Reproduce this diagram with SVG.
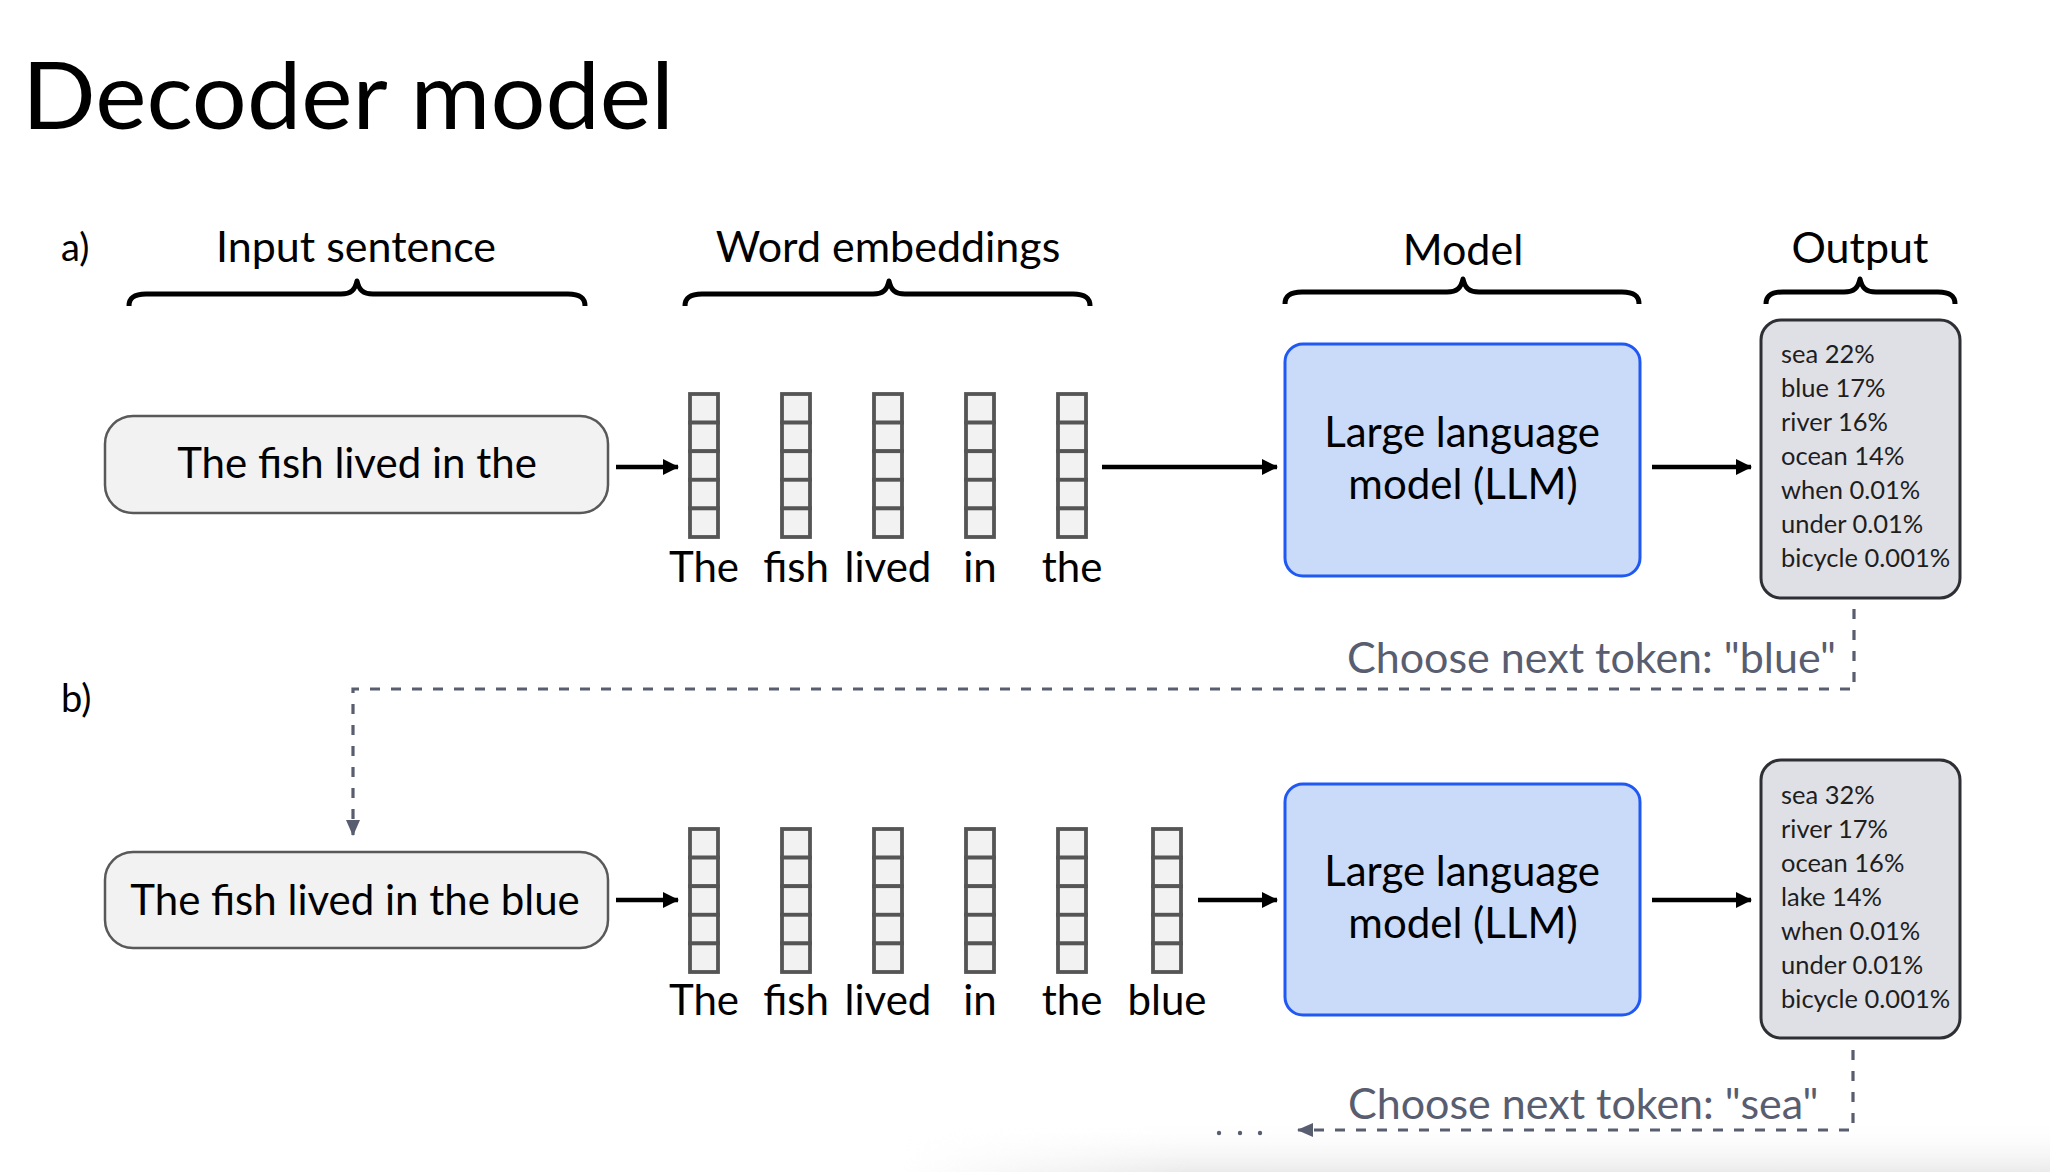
<svg xmlns="http://www.w3.org/2000/svg" width="2050" height="1172" viewBox="0 0 2050 1172">
<defs>
<style>
.t{font-family:Lato,"Open Sans","Liberation Sans",sans-serif;fill:#000;}
.lbl{font-size:43px;text-anchor:middle;}
.wd{font-size:42px;text-anchor:middle;}
.out{font-family:Lato,"Noto Sans","Liberation Sans",sans-serif;font-size:25.5px;fill:#1e1e1e;}
.brace{fill:none;stroke:#000;stroke-width:5;stroke-linejoin:round;}
.inbox{fill:#f2f2f2;stroke:#595959;stroke-width:2.5;}
.cell{fill:#f2f2f2;stroke:#555;stroke-width:3.8;}
.llm{fill:#cadaf9;stroke:#1f58f2;stroke-width:3;}
.outbox{fill:#dfe0e6;stroke:#2d2f34;stroke-width:3;}
.arr{stroke:#000;stroke-width:4.5;fill:none;marker-end:url(#ah);}
.dash{stroke:#595d70;stroke-width:3.2;fill:none;stroke-dasharray:10 11;marker-end:url(#ahd);}
.gray{fill:#595d70;}
</style>
<marker id="ah" viewBox="0 0 16 16" refX="15" refY="8" markerWidth="16" markerHeight="16" orient="auto" markerUnits="userSpaceOnUse"><path d="M0,0 L16,8 L0,16 z" fill="#000"/></marker>
<marker id="ahd" viewBox="0 0 16 14" refX="15" refY="7" markerWidth="16" markerHeight="14" orient="auto" markerUnits="userSpaceOnUse"><path d="M0,0 L16,7 L0,14 z" fill="#595d70"/></marker>
<linearGradient id="shade" x1="0" y1="0" x2="0" y2="1"><stop offset="0" stop-color="#ffffff" stop-opacity="0"/><stop offset="1" stop-color="#ebebeb" stop-opacity="1"/></linearGradient>
<linearGradient id="fadeH" x1="0" y1="0" x2="1" y2="0"><stop offset="0" stop-color="#000"/><stop offset="0.25" stop-color="#fff"/><stop offset="1" stop-color="#fff"/></linearGradient>
<mask id="shadeMask"><rect x="900" y="1120" width="1150" height="52" fill="url(#fadeH)"/></mask>
<g id="col">
<rect class="cell" x="0" y="0" width="28" height="28.6"/>
<rect class="cell" x="0" y="28.6" width="28" height="28.6"/>
<rect class="cell" x="0" y="57.2" width="28" height="28.6"/>
<rect class="cell" x="0" y="85.8" width="28" height="28.6"/>
<rect class="cell" x="0" y="114.4" width="28" height="28.6"/>
</g>
</defs>
<rect x="0" y="0" width="2050" height="1172" fill="#fff"/>
<rect x="900" y="1120" width="1150" height="52" fill="url(#shade)" mask="url(#shadeMask)"/>

<text id="title" class="t" x="22" y="129" font-size="94" textLength="652" lengthAdjust="spacingAndGlyphs">Decoder model</text>

<g id="headers">
<text class="t" x="61" y="261" font-size="38">a)</text>
<text class="t lbl" x="356" y="262">Input sentence</text>
<text class="t lbl" x="888" y="262">Word embeddings</text>
<text class="t lbl" x="1463" y="265">Model</text>
<text class="t lbl" x="1860" y="263">Output</text>
<path class="brace" d="M129 306 C129 298 134 294 146 294 L341 294 C351 294 355 290 357 281 C359 290 363 294 373 294 L568 294 C580 294 585 298 585 306"/>
<path class="brace" d="M685 306 C685 298 690 294 702 294 L873 294 C883 294 887 290 889 281 C891 290 895 294 905 294 L1073 294 C1085 294 1090 298 1090 306"/>
<path class="brace" d="M1285 304 C1285 296 1290 292 1302 292 L1447 292 C1457 292 1461 288 1463 279 C1465 288 1469 292 1479 292 L1622 292 C1634 292 1639 296 1639 304"/>
<path class="brace" d="M1766 304 C1766 296 1771 292 1783 292 L1844 292 C1854 292 1858 288 1860 279 C1862 288 1866 292 1876 292 L1938 292 C1950 292 1955 296 1955 304"/>
<text class="t" x="61" y="712" font-size="38">b)</text>
</g>

<g id="input-a">
<rect class="inbox" x="105" y="416" width="503" height="97" rx="28"/>
<text class="t wd" x="357" y="478">The fish lived in the</text>
</g>
<g id="emb-a">
<use href="#col" x="690" y="394"/>
<use href="#col" x="782" y="394"/>
<use href="#col" x="874" y="394"/>
<use href="#col" x="966" y="394"/>
<use href="#col" x="1058" y="394"/>
<text class="t wd" x="704" y="582">The</text>
<text class="t wd" x="796" y="582">fish</text>
<text class="t wd" x="888" y="582">lived</text>
<text class="t wd" x="980" y="582">in</text>
<text class="t wd" x="1072" y="582">the</text>
</g>
<g id="llm-a">
<rect class="llm" x="1285" y="344" width="355" height="232" rx="18"/>
<text class="t wd" x="1462" y="447">Large language</text>
<text class="t wd" x="1463" y="499">model (LLM)</text>
</g>
<g id="out-a">
<rect class="outbox" x="1761" y="320" width="199" height="278" rx="20"/>
<text class="out" x="1781" y="363">sea 22%</text>
<text class="out" x="1781" y="397">blue 17%</text>
<text class="out" x="1781" y="431">river 16%</text>
<text class="out" x="1781" y="465">ocean 14%</text>
<text class="out" x="1781" y="499">when 0.01%</text>
<text class="out" x="1781" y="533">under 0.01%</text>
<text class="out" x="1781" y="567">bicycle 0.001%</text>
</g>

<g id="input-b">
<rect class="inbox" x="105" y="852" width="503" height="96" rx="28"/>
<text class="t wd" x="355" y="915">The fish lived in the blue</text>
</g>
<g id="emb-b">
<use href="#col" x="690" y="829"/>
<use href="#col" x="782" y="829"/>
<use href="#col" x="874" y="829"/>
<use href="#col" x="966" y="829"/>
<use href="#col" x="1058" y="829"/>
<use href="#col" x="1153" y="829"/>
<text class="t wd" x="704" y="1015">The</text>
<text class="t wd" x="796" y="1015">fish</text>
<text class="t wd" x="888" y="1015">lived</text>
<text class="t wd" x="980" y="1015">in</text>
<text class="t wd" x="1072" y="1015">the</text>
<text class="t wd" x="1167" y="1015">blue</text>
</g>
<g id="llm-b">
<rect class="llm" x="1285" y="784" width="355" height="231" rx="18"/>
<text class="t wd" x="1462" y="886">Large language</text>
<text class="t wd" x="1463" y="938">model (LLM)</text>
</g>
<g id="out-b">
<rect class="outbox" x="1761" y="760" width="199" height="278" rx="20"/>
<text class="out" x="1781" y="804">sea 32%</text>
<text class="out" x="1781" y="838">river 17%</text>
<text class="out" x="1781" y="872">ocean 16%</text>
<text class="out" x="1781" y="906">lake 14%</text>
<text class="out" x="1781" y="940">when 0.01%</text>
<text class="out" x="1781" y="974">under 0.01%</text>
<text class="out" x="1781" y="1008">bicycle 0.001%</text>
</g>

<g id="connectors">
<line class="arr" x1="616" y1="467" x2="678" y2="467"/>
<line class="arr" x1="1102" y1="467" x2="1277" y2="467"/>
<line class="arr" x1="1652" y1="467" x2="1751" y2="467"/>
<line class="arr" x1="616" y1="900" x2="678" y2="900"/>
<line class="arr" x1="1198" y1="900" x2="1277" y2="900"/>
<line class="arr" x1="1652" y1="900" x2="1751" y2="900"/>
<path class="dash" d="M1854 609 V689 H353 V835"/>
<text class="t" x="1347" y="673" font-size="43" style="fill:#595d70">Choose next token: "blue"</text>
<path class="dash" d="M1853 1050 V1130 H1298"/>
<text class="t" x="1348" y="1119" font-size="43" style="fill:#595d70">Choose next token: "sea"</text>
<circle class="gray" cx="1219" cy="1133" r="2.2"/>
<circle class="gray" cx="1240" cy="1133" r="2.2"/>
<circle class="gray" cx="1260" cy="1133" r="2.2"/>
</g>
</svg>
